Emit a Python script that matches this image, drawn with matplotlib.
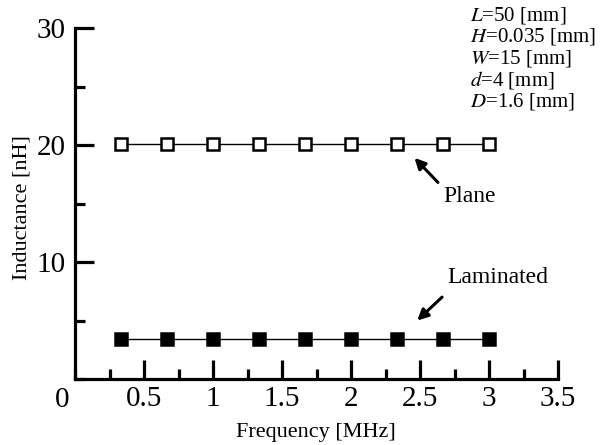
import matplotlib
matplotlib.use("Agg")
import matplotlib.pyplot as plt
from matplotlib.ticker import MultipleLocator

# --- data ---
freq = [0.33, 0.67, 1.0, 1.33, 1.67, 2.0, 2.33, 2.67, 3.0]
plane = [20.1, 20.1, 20.1, 20.1, 20.1, 20.1, 20.1, 20.1, 20.1]
laminated = [3.4, 3.4, 3.4, 3.4, 3.4, 3.4, 3.4, 3.4, 3.4]
x_ticks = [0.5, 1, 1.5, 2, 2.5, 3, 3.5]
y_ticks = [10, 20, 30]
params = ["$L$=50 [mm]", "$H$=0.035 [mm]", "$W$=15 [mm]", "$d$=4 [mm]", "$D$=1.6 [mm]"]

plt.rcParams['font.family'] = ['Liberation Serif', 'DejaVu Serif']
plt.rcParams['mathtext.fontset'] = 'stix'

W, H = 611, 445
fig = plt.figure(figsize=(W / 100, H / 100), dpi=100)
ax = fig.add_axes([75 / W, 66 / H, 483 / W, 351 / H])

ax.plot(freq, plane, '-s', color='k', lw=1.0, ms=8.5, mfc='white', mec='k', mew=1.8)
ax.plot(freq, laminated, '-s', color='k', lw=1.0, ms=8.5, mfc='k', mec='k', mew=1.8)

ax.set_xlim(0, 3.5)
ax.set_ylim(0, 30)
for s in ['top', 'right']:
    ax.spines[s].set_visible(False)
for s in ['left', 'bottom']:
    ax.spines[s].set_linewidth(2.3)

ax.set_xticks(x_ticks)
ax.set_xticklabels([f"{t:g}" for t in x_ticks])
ax.set_yticks(y_ticks)
ax.set_yticklabels([str(t) for t in y_ticks])
ax.xaxis.set_minor_locator(MultipleLocator(0.25))
ax.yaxis.set_minor_locator(MultipleLocator(5))
ax.tick_params(which='major', direction='in', length=14, width=2.3, labelsize=21)
ax.tick_params(which='minor', direction='in', length=7, width=2.3)
ax.tick_params(axis='x', which='major', pad=5)
ax.tick_params(axis='y', which='major', pad=7)

# shared origin label
fig.text(62 / W, 1 - 400 / H, "0", fontsize=21, ha='center', va='center')

fig.text(316 / W, 1 - 432 / H, "Frequency [MHz]", fontsize=16, ha='center', va='center')
fig.text(22 / W, 1 - 208 / H, "Inductance [nH]", fontsize=16, rotation=90,
         ha='center', va='center')

# annotations
arrow = dict(arrowstyle='-|>', color='k', lw=2.2, mutation_scale=16, shrinkA=0, shrinkB=0)
ax.annotate('', xy=(2.46, 18.9), xytext=(2.63, 16.8), arrowprops=arrow)
ax.text(2.67, 15.6, "Plane", fontsize=17, ha='left', va='center')
ax.annotate('', xy=(2.48, 5.0), xytext=(2.66, 7.0), arrowprops=arrow)
ax.text(2.70, 8.7, "Laminated", fontsize=17, ha='left', va='center')

# parameter block
for i, p in enumerate(params):
    fig.text(470 / W, 1 - (15 + 21.7 * i) / H, p, fontsize=15, ha='left', va='center')

fig.savefig("out.png", dpi=100)
